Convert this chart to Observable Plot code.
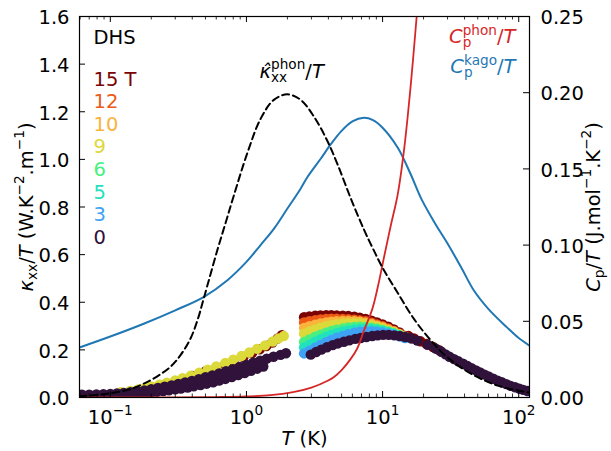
<!DOCTYPE html>
<html>
<head>
<meta charset="utf-8">
<script src="https://cdn.jsdelivr.net/npm/d3@7"></script>
<script src="https://cdn.jsdelivr.net/npm/@observablehq/plot@0.6"></script>
<style>
  html, body { margin: 0; padding: 0; background: #fff; }
  svg { display: block; }
</style>
</head>
<body>
<div id="chart"></div>
<script>
// ---------------- DATA ----------------
const fields = ["15 T", "12", "10", "9", "6", "5", "3", "0"];
const fieldColors = ["#7a0403", "#ec5a16", "#fab43c", "#dcd93a", "#48f082", "#22e2be", "#40a2f5", "#30123b"];

// Dashed line: phonon thermal conductivity kappa_xx^phon / T
const T_kphon = [0.0594, 0.08, 0.1, 0.13, 0.15, 0.176, 0.22, 0.278, 0.33, 0.39, 0.44, 0.488, 0.61, 0.7, 0.8, 1.02, 1.27, 1.59, 2.0, 2.5, 3.13, 3.95, 4.7, 5.85, 7.3, 8.5, 10, 12.9, 17, 22.6, 30, 44.6, 70, 116, 120];
const k_kphon = [0.005, 0.011, 0.018, 0.03, 0.041, 0.058, 0.088, 0.13, 0.18, 0.25, 0.33, 0.42, 0.617, 0.73, 0.84, 1.03, 1.17, 1.25, 1.273, 1.25, 1.18, 1.075, 0.975, 0.835, 0.705, 0.625, 0.545, 0.44, 0.33, 0.24, 0.168, 0.10, 0.05, 0.022, 0.021];

// Blue line: C_p^kago / T (right axis)
const T_kago = [0.0594, 0.1, 0.176, 0.3, 0.488, 0.725, 1.0, 1.27, 1.6, 2.0, 2.5, 2.8, 3.5, 4.17, 4.94, 6.0, 7.3, 8.5, 10, 12.9, 16, 19.1, 24, 30, 38, 47, 60, 82, 100, 120];
const cp_kago = [0.0328, 0.040, 0.0484, 0.0572, 0.0661, 0.077, 0.089, 0.1, 0.111, 0.124, 0.137, 0.1445, 0.1565, 0.1662, 0.1745, 0.1812, 0.1835, 0.182, 0.177, 0.164, 0.147, 0.131, 0.115, 0.101, 0.085, 0.070, 0.058, 0.046, 0.039, 0.034];

// Red line: C_p^phon / T (right axis)
const T_cphon = [0.0594, 0.3, 0.6, 1.0, 1.5, 2.2, 3.0, 3.95, 4.4, 5.0, 5.8, 6.5, 7.3, 8.4, 9.3, 10.3, 11.5, 12.9, 14.4, 16.1, 17.8, 19];
const cp_cphon = [0, 0.00005, 0.0003, 0.0007, 0.0015, 0.0035, 0.0065, 0.011, 0.0135, 0.018, 0.025, 0.032, 0.044, 0.058, 0.074, 0.093, 0.113, 0.133, 0.163, 0.205, 0.25, 0.28];

// Measured kappa_xx / T points — low-temperature sweep
const T_low9 = [0.12, 0.14, 0.16, 0.18, 0.2, 0.23, 0.26, 0.3, 0.34, 0.39, 0.45, 0.52, 0.6, 0.7, 0.8, 0.92, 1.05, 1.2, 1.37, 1.56, 1.72, 1.88];
const k_low9 = [0.022, 0.028, 0.034, 0.04, 0.046, 0.054, 0.062, 0.072, 0.081, 0.092, 0.104, 0.117, 0.13, 0.145, 0.159, 0.174, 0.189, 0.204, 0.219, 0.235, 0.248, 0.258];
const T_low15 = [0.3, 0.4, 0.5, 0.6, 0.7, 0.8, 0.95, 1.1, 1.25, 1.4, 1.55, 1.7, 1.82];
const k_low15 = [0.068, 0.09, 0.109, 0.124, 0.139, 0.152, 0.17, 0.187, 0.202, 0.216, 0.231, 0.248, 0.262];
const T_low0a = [0.062, 0.07, 0.079, 0.089, 0.1, 0.112, 0.126, 0.141, 0.158, 0.178, 0.2, 0.224, 0.251, 0.282, 0.316, 0.355, 0.398, 0.447, 0.501, 0.562, 0.631, 0.708, 0.794, 0.891, 1.0, 1.12, 1.26, 1.41, 1.58, 1.78, 1.95];
const k_low0a = [0.012, 0.012, 0.013, 0.014, 0.015, 0.017, 0.019, 0.022, 0.026, 0.03, 0.035, 0.04, 0.045, 0.051, 0.057, 0.063, 0.07, 0.077, 0.085, 0.093, 0.101, 0.11, 0.119, 0.128, 0.137, 0.146, 0.155, 0.163, 0.171, 0.179, 0.186];
const T_low0b = [0.11, 0.12, 0.135, 0.15, 0.165, 0.18, 0.2, 0.22, 0.245, 0.27, 0.3, 0.33, 0.37, 0.41, 0.46, 0.51, 0.57, 0.63, 0.7, 0.78, 0.87, 0.97, 1.08, 1.2, 1.33];
const k_low0b = [0.011, 0.012, 0.013, 0.015, 0.017, 0.019, 0.021, 0.024, 0.027, 0.03, 0.034, 0.038, 0.042, 0.047, 0.052, 0.058, 0.064, 0.071, 0.078, 0.086, 0.094, 0.103, 0.112, 0.121, 0.13];

// mid-temperature sweep (fields 15 .. 3 T)
const T_mid = [2.65, 2.9, 3.2, 3.5, 3.85, 4.2, 4.6, 5.1, 5.6, 6.2, 6.8, 7.5, 8.3, 9.1, 10, 11, 12.1, 13.3, 14.6];
const k_mid15 = [0.337, 0.340, 0.343, 0.345, 0.346, 0.346, 0.345, 0.344, 0.342, 0.339, 0.335, 0.330, 0.323, 0.315, 0.307, 0.297, 0.286, 0.273, 0.258];
const k_mid12 = [0.315, 0.320, 0.325, 0.328, 0.330, 0.331, 0.331, 0.330, 0.329, 0.327, 0.324, 0.320, 0.314, 0.307, 0.299, 0.290, 0.280, 0.268, 0.256];
const k_mid10 = [0.292, 0.299, 0.306, 0.311, 0.315, 0.318, 0.320, 0.321, 0.321, 0.320, 0.318, 0.314, 0.309, 0.302, 0.295, 0.286, 0.277, 0.266, 0.255];
const k_mid9  = [0.268, 0.277, 0.286, 0.293, 0.299, 0.304, 0.308, 0.311, 0.312, 0.312, 0.311, 0.308, 0.303, 0.297, 0.290, 0.282, 0.274, 0.264, 0.254];
const k_mid6  = [0.233, 0.244, 0.255, 0.264, 0.272, 0.279, 0.285, 0.290, 0.294, 0.296, 0.297, 0.296, 0.293, 0.289, 0.284, 0.277, 0.270, 0.262, 0.253];
const k_mid5  = [0.210, 0.222, 0.234, 0.245, 0.255, 0.263, 0.270, 0.277, 0.282, 0.286, 0.288, 0.289, 0.287, 0.284, 0.280, 0.274, 0.268, 0.260, 0.252];
const k_mid3  = [0.185, 0.197, 0.209, 0.221, 0.232, 0.242, 0.251, 0.259, 0.266, 0.272, 0.276, 0.278, 0.278, 0.276, 0.273, 0.269, 0.264, 0.257, 0.250];
// zero field, mid + high temperature
const T_mid0 = [2.97, 3.25, 3.55, 3.9, 4.3, 4.7, 5.2, 5.7, 6.3, 6.9, 7.6, 8.4, 9.2, 10.1, 11.1, 12.2, 13.4, 14.7, 16.2];
const k_mid0 = [0.18, 0.191, 0.201, 0.211, 0.22, 0.227, 0.234, 0.24, 0.246, 0.25, 0.254, 0.258, 0.261, 0.263, 0.263, 0.261, 0.258, 0.254, 0.248];
const T_high0 = [18, 21.4, 24.6, 27, 29, 31, 33.5, 36, 39, 42, 45, 48.5, 52, 56, 60, 65, 70, 75, 81, 87, 94, 101, 108, 116];
const k_high0 = [0.239, 0.221, 0.205, 0.192, 0.181, 0.171, 0.161, 0.152, 0.142, 0.132, 0.123, 0.114, 0.105, 0.096, 0.088, 0.079, 0.071, 0.064, 0.056, 0.049, 0.043, 0.037, 0.032, 0.027];
const T_high15 = [15.5, 17, 19, 21, 23.5, 26];
const k_high15 = [0.258, 0.248, 0.236, 0.225, 0.212, 0.199];

// Axis ticks
const xMajor = [0.1, 1, 10, 100];
const xMajorExp = ["−1", "0", "1", "2"];
const yTicks = [0, 0.2, 0.4, 0.6, 0.8, 1.0, 1.2, 1.4, 1.6];
const cpTicks = [0, 0.05, 0.10, 0.15, 0.20, 0.25];

// ---------------- BUILD ----------------
const F = 19.5;
const K_MAX = 1.6, CP_MAX = 0.25;
const CP_TO_K = K_MAX / CP_MAX;
const zip = (T, k) => T.map((t, i) => ({T: t, k: k[i]}));

const xMinor = [];
for (const dec of [0.01, 0.1, 1, 10, 100]) for (let m = 2; m <= 9; m++) {
  const v = m * dec; if (v > 0.0594 && v < 120) xMinor.push(v);
}

const series = [
  zip(T_low15, k_low15).concat(zip(T_mid, k_mid15), zip(T_high15, k_high15)),
  zip(T_mid, k_mid12),
  zip(T_mid, k_mid10),
  zip(T_low9, k_low9).concat(zip(T_mid, k_mid9)),
  zip(T_mid, k_mid6),
  zip(T_mid, k_mid5),
  zip(T_mid, k_mid3),
  zip(T_low0b, k_low0b).concat(zip(T_low0a, k_low0a), zip(T_mid0, k_mid0), zip(T_high0, k_high0))
];

// rich text machinery (sub/superscripts as tspans), matched by plain text
const richByPlain = new Map();
const plain = parts => parts.map(p => typeof p === "string" ? p : (p.i || p.sub || p.sup || ((p.sub2 || "") + (p.sup2 || "")))).join("");
function richText(data, partsFn, opts) {
  data.forEach((d, i) => richByPlain.set(plain(partsFn(d, i)), partsFn(d, i)));
  return Plot.text(data, {...opts, text: (d, i) => plain(partsFn(d, i))});
}
function rich(el, parts) {
  const NS = "http://www.w3.org/2000/svg";
  while (el.firstChild) el.removeChild(el.firstChild);
  el.removeAttribute("y");
  el.removeAttribute("dy");
  let shift = 0, pending = 0;
  const mk = (txt, size, off, italic, dx) => {
    const t = document.createElementNS(NS, "tspan");
    t.textContent = txt;
    t.setAttribute("font-size", size);
    t.setAttribute("dy", off - shift);
    const d = (dx || 0) + pending; pending = 0;
    if (d) t.setAttribute("dx", d);
    t.setAttribute("font-style", italic ? "italic" : "normal");
    shift = off;
    el.appendChild(t);
    return t;
  };
  for (const p of parts) {
    if (typeof p === "string") mk(p, F, 0, false);
    else if (p.i) mk(p.i, F, 0, true);
    else if (p.sub) mk(p.sub, F * 0.7, F * 0.22, false);
    else if (p.sup) mk(p.sup, F * 0.7, -F * 0.42, false);
    else if (p.sub2) {
      const a = mk(p.sub2, F * 0.7, F * 0.22, false);
      const la = a.getComputedTextLength();
      const b = mk(p.sup2, F * 0.7, -F * 0.42, false, -la);
      const lb = b.getComputedTextLength();
      pending = Math.max(0, la - lb);
    }
  }
}

const marks = [];
// data points, 15 T first, 0 T last (on top)
series.forEach((s, i) => marks.push(Plot.dot(s, {x: "T", y: "k", r: 5.2, fill: fieldColors[i], clip: true})));
// curves
marks.push(Plot.line(zip(T_kago, cp_kago), {x: "T", y: d => d.k * CP_TO_K, stroke: "#1f77b4", strokeWidth: 2, curve: "catmull-rom", clip: true}));
marks.push(Plot.line(zip(T_cphon, cp_cphon), {x: "T", y: d => d.k * CP_TO_K, stroke: "#d62728", strokeWidth: 1.8, curve: "catmull-rom", clip: true}));
marks.push(Plot.line(zip(T_kphon, k_kphon), {x: "T", y: "k", stroke: "black", strokeWidth: 2, strokeDasharray: "7,4", curve: "catmull-rom", clip: true}));

// ticks (inward, all sides)
const FW = 611 - 79 - 82, FH = 451 - 16 - 54;
marks.push(Plot.ruleX(xMajor, {x: d => d, insetTop: FH - 6, stroke: "black", strokeWidth: 1}));
marks.push(Plot.ruleX(xMajor, {x: d => d, insetBottom: FH - 6, stroke: "black", strokeWidth: 1}));
marks.push(Plot.ruleX(xMinor, {x: d => d, insetTop: FH - 3.5, stroke: "black", strokeWidth: 0.8}));
marks.push(Plot.ruleX(xMinor, {x: d => d, insetBottom: FH - 3.5, stroke: "black", strokeWidth: 0.8}));
marks.push(Plot.ruleY(yTicks, {y: d => d, insetRight: FW - 6, stroke: "black", strokeWidth: 1}));
marks.push(Plot.ruleY(cpTicks, {y: d => d * CP_TO_K, insetLeft: FW - 6, stroke: "black", strokeWidth: 1}));
marks.push(Plot.frame({stroke: "black", strokeWidth: 1.2}));

// tick labels
marks.push(Plot.text(yTicks, {y: d => d, frameAnchor: "left", dx: -10, dy: 1.5, textAnchor: "end", text: d => d.toFixed(1), fontSize: F, fill: "black"}));
marks.push(Plot.text(cpTicks, {y: d => d * CP_TO_K, frameAnchor: "right", dx: 11, dy: 1.5, textAnchor: "start", text: d => d.toFixed(2), fontSize: F, fill: "black"}));
marks.push(richText(xMajor, (d, i) => ["10", {sup: xMajorExp[i]}], {x: d => d, frameAnchor: "bottom", dy: 26, textAnchor: "middle", fontSize: F, fill: "black"}));

// axis labels
marks.push(richText([0], () => [{i: "T"}, " (K)"], {frameAnchor: "bottom", dy: 47, textAnchor: "middle", fontSize: F, fill: "black"}));
marks.push(richText([0], () => [{i: "κ"}, {sub: "xx"}, "/", {i: "T"}, " (W.K", {sup: "−2"}, ".m", {sup: "−1"}, ")"], {frameAnchor: "left", dx: -47, rotate: -90, textAnchor: "middle", fontSize: F, fill: "black"}));
marks.push(richText([0], () => [{i: "C"}, {sub: "p"}, "/", {i: "T"}, " (J.mol", {sup: "−1"}, ".K", {sup: "−2"}, ")"], {frameAnchor: "right", dx: 70, rotate: -90, textAnchor: "middle", fontSize: F, fill: "black"}));

// legend
marks.push(richText([0], () => ["DHS"], {frameAnchor: "top-left", dx: 14, dy: 27, textAnchor: "start", fontSize: F, fill: "black"}));
fields.forEach((f, i) => marks.push(richText([f], d => [d], {frameAnchor: "top-left", dx: 14, dy: 69 + i * 22.6, textAnchor: "start", fontSize: F, fill: fieldColors[i]})));

// annotations
marks.push(richText([0], () => [{i: "κ̂"}, {sub2: "xx", sup2: "phon"}, "/", {i: "T"}], {frameAnchor: "top-left", dx: 180, dy: 61, textAnchor: "start", fontSize: F, fill: "black"}));
marks.push(richText([0], () => [{i: "C"}, {sub2: "p", sup2: "phon"}, "/", {i: "T"}], {frameAnchor: "top-right", dx: -14, dy: 26.5, textAnchor: "end", fontSize: F, fill: "#d62728"}));
marks.push(richText([0], () => [{i: "C"}, {sub2: "p", sup2: "kago"}, "/", {i: "T"}], {frameAnchor: "top-right", dx: -14, dy: 56.7, textAnchor: "end", fontSize: F, fill: "#1f77b4"}));

const chart = Plot.plot({
  width: 611, height: 451,
  marginLeft: 79, marginRight: 82, marginTop: 16, marginBottom: 54,
  x: {type: "log", domain: [0.0594, 120], axis: null},
  y: {domain: [0, K_MAX], axis: null},
  style: {fontFamily: "'DejaVu Sans', sans-serif", background: "white", color: "black", overflow: "visible"},
  marks
});
document.getElementById("chart").appendChild(chart);

chart.querySelectorAll("text").forEach(el => {
  const parts = richByPlain.get(el.textContent);
  if (parts) rich(el, parts);
});
</script>
</body>
</html>
